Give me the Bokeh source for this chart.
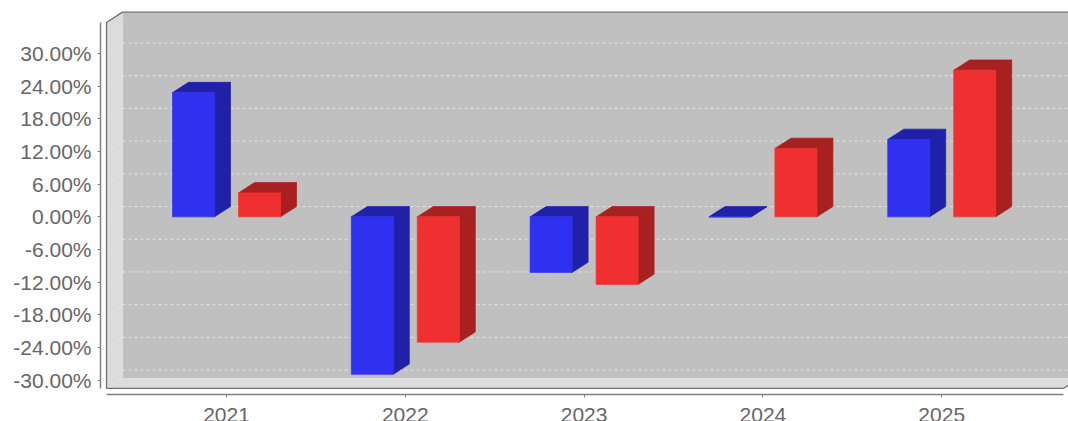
from bokeh.plotting import figure
from bokeh.models import FixedTicker, PrintfTickFormatter, Range1d
from bokeh.embed import file_html
from bokeh.resources import INLINE

years = ["2021", "2022", "2023", "2024", "2025"]
series_blue = [22.8, -28.9, -10.2, 0.0, 14.2]
series_red = [4.4, -23.0, -12.4, 12.55, 26.9]
y_ticks = [-30, -24, -18, -12, -6, 0, 6, 12, 18, 24, 30]

# 3D extrusion and plot box, in axis units
DX, DY = 16 / 178.8, 10.3 / 5.45
BAR_W = 42 / 178.8
OFFSET = 33 / 178.8
X_L, X_R = -0.671, 4.681
Y_B, Y_T = -31.49, 35.67
Y_XAXIS = -32.58

GREY = "#808080"
TEXT = "#666666"

p = figure(width=1068, height=421, output_backend="svg", toolbar_location=None,
           x_range=Range1d(-0.7047, 4.709), y_range=Range1d(-37.55, 39.70),
           min_border_left=100, min_border_right=0, min_border_top=0, min_border_bottom=0,
           background_fill_color="white", border_fill_color="white")
p.outline_line_color = None
p.grid.visible = False

# walls
p.patch([X_L + DX, X_R + DX, X_R + DX, X_L + DX], [Y_B + DY, Y_B + DY, Y_T + DY, Y_T + DY],
        fill_color="#c0c0c0", line_color=None)
p.patch([X_L, X_L + DX, X_L + DX, X_L], [Y_B, Y_B + DY, Y_T + DY, Y_T],
        fill_color="#dcdcdc", line_color=None)
p.patch([X_L, X_R, X_R + DX, X_L + DX], [Y_B, Y_B, Y_B + DY, Y_B + DY],
        fill_color="#dcdcdc", line_color=None)

# gridlines on the back wall and left wall
p.multi_line([[X_L + DX, X_R + DX] for _ in y_ticks], [[t + DY, t + DY] for t in y_ticks],
             line_color="#e4e4e4", line_width=1, line_dash="3 3")
p.multi_line([[X_L, X_L + DX] for _ in y_ticks], [[t, t + DY] for t in y_ticks],
             line_color="#ececec", line_width=1, line_alpha=0.7, line_dash="3 3")

# box outline
p.line([X_L, X_L, X_L + DX, X_R + DX], [Y_B, Y_T, Y_T + DY, Y_T + DY], line_color="#707070", line_width=1.3)
p.line([X_L, X_R, X_R + DX], [Y_B, Y_B, Y_B + DY], line_color="#707070", line_width=1.3)


def bars(values, shift, front, dark):
    for i, v in enumerate(values):
        l = i + shift - BAR_W / 2
        r = l + BAR_W
        top, bot = max(v, 0), min(v, 0)
        p.patch([r, r + DX, r + DX, r], [bot, bot + DY, top + DY, top],
                fill_color=dark, line_color=dark, line_width=0.7)
        p.patch([l, r, r + DX, l + DX], [top, top, top + DY, top + DY],
                fill_color=dark, line_color=dark, line_width=0.7)
        p.quad(left=l, right=r, bottom=bot, top=top,
               fill_color=front, line_color=front, line_width=0.7)


bars(series_blue, -OFFSET, "#3030f0", "#2020a8")
bars(series_red, OFFSET, "#f03030", "#a82020")

# axes
ya = p.yaxis[0]
ya.ticker = FixedTicker(ticks=y_ticks)
ya.formatter = PrintfTickFormatter(format="%.2f%%")
ya.bounds = (Y_B, Y_T)
ya.axis_line_color = GREY
ya.axis_line_width = 1.5
ya.major_tick_line_color = GREY
ya.major_tick_out = 3
ya.major_tick_in = 0
ya.minor_tick_line_color = None
ya.major_label_text_font = "Liberation Sans"
ya.major_label_text_font_size = "21px"
ya.major_label_text_color = TEXT
ya.major_label_standoff = 6

xa = p.xaxis[0]
xa.fixed_location = Y_XAXIS
xa.ticker = FixedTicker(ticks=list(range(len(years))))
xa.major_label_overrides = {i: y for i, y in enumerate(years)}
xa.bounds = (X_L, X_R)
xa.axis_line_color = GREY
xa.axis_line_width = 1.5
xa.major_tick_line_color = GREY
xa.major_tick_out = 3
xa.major_tick_in = 0
xa.minor_tick_line_color = None
xa.major_label_text_font = "Liberation Sans"
xa.major_label_text_font_size = "21px"
xa.major_label_text_color = TEXT
xa.major_label_standoff = 11

open("out.html", "w").write(file_html(p, INLINE))
